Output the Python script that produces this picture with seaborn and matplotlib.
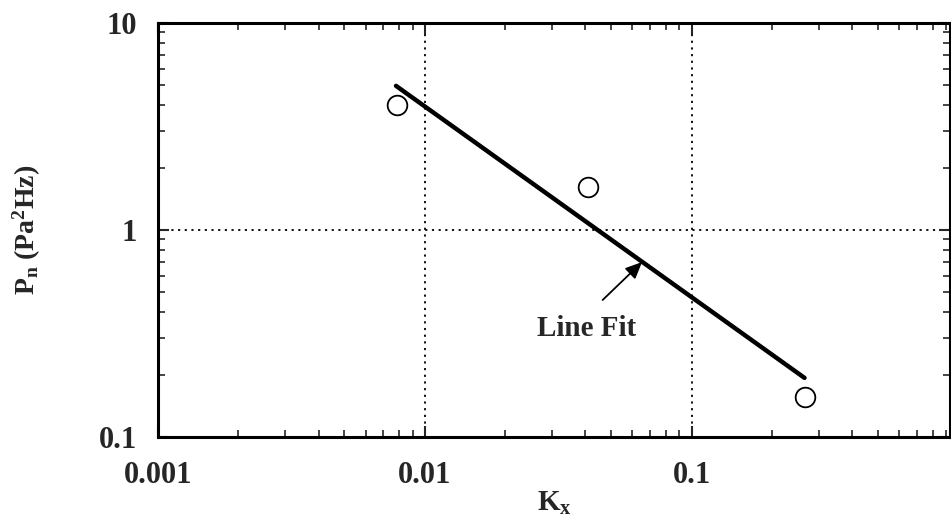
import numpy as np
import pandas as pd
import matplotlib
matplotlib.use('Agg')
import matplotlib.pyplot as plt
import seaborn as sns
from matplotlib.ticker import LogLocator, NullFormatter, FixedLocator

# ── Data ──────────────────────────────────────────────────────────────────────
kx_points = [0.0079, 0.041, 0.267]
pn_points = [4.0, 1.62, 0.156]

fit_kx = [0.0078, 0.265]
fit_pn = [4.97, 0.193]

x_ticks  = [0.001, 0.01, 0.1]
x_labels = ['0.001', '0.01', '0.1']
y_ticks  = [0.1, 1, 10]
y_labels = ['0.1', '1', '10']

pts_df = pd.DataFrame({'Kx': kx_points, 'Pn': pn_points})
fit_df = pd.DataFrame({'Kx': fit_kx, 'Pn': fit_pn})

# ── Style ─────────────────────────────────────────────────────────────────────
sns.set_style('ticks')
plt.rcParams['font.family'] = ['Liberation Serif', 'DejaVu Serif']
plt.rcParams['font.weight'] = 'bold'
plt.rcParams['mathtext.fontset'] = 'custom'
plt.rcParams['mathtext.rm'] = 'Liberation Serif:bold'
plt.rcParams['mathtext.it'] = 'Liberation Serif:bold'

fig = plt.figure(figsize=(9.51, 5.21), dpi=100)
# the original scan is cropped just past 0.9 on the x axis
ax = fig.add_axes([158 / 951, 1 - 437 / 521, 792 / 951, 414 / 521])

sns.lineplot(data=fit_df, x='Kx', y='Pn', ax=ax, color='black', lw=3.2)
sns.scatterplot(data=pts_df, x='Kx', y='Pn', ax=ax, marker='o', s=200,
                facecolor='white', edgecolor='black', linewidth=1.3, zorder=5)

ax.set_xscale('log'); ax.set_yscale('log')
ax.set_xlim(0.001, 0.93); ax.set_ylim(0.1, 10)

ax.xaxis.set_major_locator(FixedLocator(x_ticks))
ax.set_xticklabels(x_labels)
ax.yaxis.set_major_locator(FixedLocator(y_ticks))
ax.set_yticklabels(y_labels)
ax.xaxis.set_minor_locator(LogLocator(base=10, subs=np.arange(2, 10)))
ax.yaxis.set_minor_locator(LogLocator(base=10, subs=np.arange(2, 10)))
ax.xaxis.set_minor_formatter(NullFormatter())
ax.yaxis.set_minor_formatter(NullFormatter())

ax.tick_params(which='major', direction='in', length=8, width=1.5,
               top=True, right=True, labelsize=22)
ax.tick_params(axis='x', which='major', pad=17)
ax.tick_params(axis='y', which='major', pad=15)
ax.tick_params(which='minor', direction='in', length=5, width=1.2,
               top=True, right=True)
for lab in ax.get_xticklabels() + ax.get_yticklabels():
    lab.set_fontweight('bold')

for s in ax.spines.values():
    s.set_linewidth(2.2); s.set_color('black')

ax.grid(True, which='major', ls=(0, (1.2, 2.5)), color='black', lw=1.3)

ax.set_xlabel(r'K$_\mathregular{x}$', fontsize=21, fontweight='bold', labelpad=0)
ax.set_ylabel(r'P$_\mathregular{n}$ (Pa$^\mathregular{2}$Hz)', fontsize=20,
              fontweight='bold', labelpad=40)

# annotation: arrow and text placed separately
ax.annotate('', xy=(0.0652, 0.70), xytext=(0.0464, 0.459),
            arrowprops=dict(arrowstyle='-|>,head_length=1.0,head_width=0.45',
                            color='black', lw=1.3, shrinkA=0, shrinkB=0))
ax.text(0.0403, 0.336, 'Line Fit', ha='center', va='center',
        fontsize=21, fontweight='bold')

fig.savefig('out.png', dpi=100)
